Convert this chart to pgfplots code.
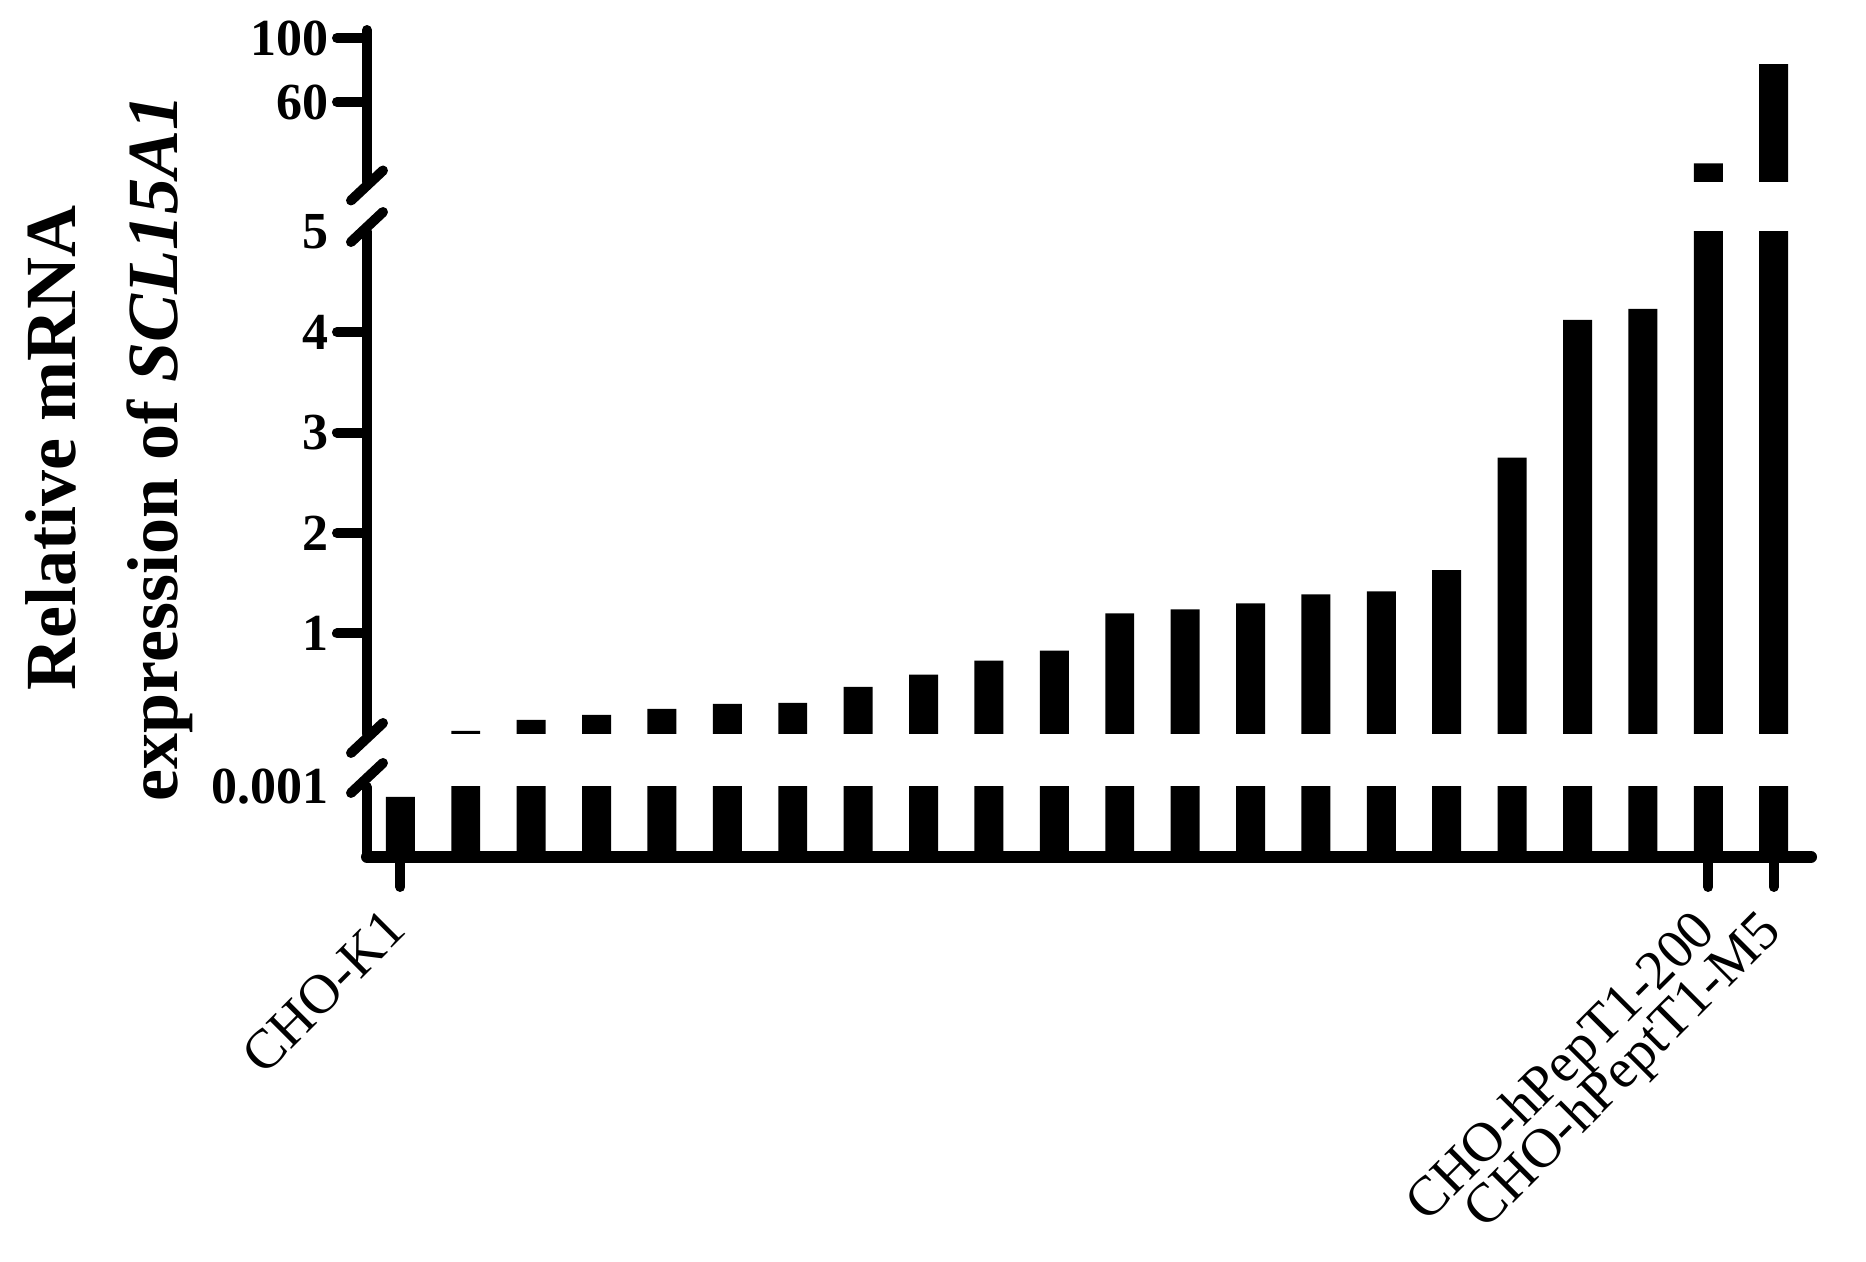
\documentclass[border=0pt]{standalone}
\usepackage{fontspec}
\setmainfont{Liberation Serif}
\usepackage{pgfplots}
\pgfplotsset{compat=1.18}
\usepackage{pgfplotstable}

\pgfplotstableread{
x y
1 0.00086
2 0.03
3 0.14
4 0.19
5 0.25
6 0.30
7 0.31
8 0.47
9 0.59
10 0.73
11 0.83
12 1.20
13 1.24
14 1.30
15 1.39
16 1.42
17 1.63
18 2.75
19 4.12
20 4.23
21 21.7
22 83.6
}\datatable

\begin{document}
\begin{tikzpicture}
\pgfplotsset{
  seg/.style={
    scale only axis, width=361pt,
    xmin=0.49, xmax=22.57,
    axis y line*=left,
    y axis line style={line width=2.5pt, line cap=round},
    tick align=outside,
    major tick length=7.5pt,
    tick style={line width=2.5pt, line cap=round, black},
    yticklabel style={font=\fontsize{13}{15}\selectfont\bfseries, inner sep=0pt, xshift=-2pt},
    scaled y ticks=false,
    extra y tick style={major tick style={draw=none}},
  },
}
% top segment
\begin{axis}[seg, name=top, at={(0,168.75pt)}, anchor=south west, height=38pt,
  ymin=10, ymax=105, axis x line=none,
  ytick={60,100}, yticklabels={60,100}]
\addplot[ybar, bar width=0.443, fill=black, draw=none, restrict y to domain=10:1000] table[x=x,y=y]{\datatable};
\end{axis}
% middle segment
\begin{axis}[seg, name=mid, at={(0,30.75pt)}, anchor=south west, height=125.625pt,
  ymin=0, ymax=5, axis x line=none,
  ytick={1,2,3,4}, yticklabels={1,2,3,4},
  extra y ticks={5}, extra y tick labels={5}]
\addplot[ybar, bar width=0.443, fill=black, draw=none, restrict y to domain=0.005:1000] table[x=x,y expr={min(\thisrow{y},5.5)}]{\datatable};
\end{axis}
% bottom segment
\begin{axis}[seg, name=bot, at={(0,0)}, anchor=south west, height=17.5pt,
  ymin=0, ymax=0.001,
  axis x line*=bottom,
  x axis line style={line width=3pt, line cap=round},
  ytick=\empty,
  extra y ticks={0.001}, extra y tick labels={0.001},
  xtick={1,21,22},
  xticklabels={CHO-K1,CHO-hPepT1-200,CHO-hPeptT1-M5},
  xticklabel style={font=\fontsize{13.9}{16}\selectfont, xshift=-4.5pt, yshift=-4.5pt, rotate=45, anchor=north east, inner sep=0pt}]
\addplot[ybar, bar width=0.443, fill=black, draw=none] table[x=x,y expr={min(\thisrow{y},0.0011)}]{\datatable};
\end{axis}
% axis breaks
\draw[line width=2.5pt, line cap=round] (top.south west) ++(-4pt,-4.625pt) -- ++(8pt,7.5pt);
\draw[line width=2.5pt, line cap=round] (mid.north west) ++(-4pt,-2.625pt) -- ++(8pt,7.5pt);
\draw[line width=2.5pt, line cap=round] (mid.south west) ++(-4pt,-4.75pt) -- ++(8pt,7.5pt);
\draw[line width=2.5pt, line cap=round] (bot.north west) ++(-4pt,-1.5pt) -- ++(8pt,7.5pt);
% y label
\node[rotate=90, align=center, inner sep=0pt, font=\fontsize{18}{25.5}\selectfont\bfseries] at (-64.5pt,102.25pt) {Relative mRNA\\expression of \textit{SCL15A1}};
\pgfresetboundingbox
\useasboundingbox (-91.75pt,-101.25pt) rectangle (374.75pt,214.25pt);
\end{tikzpicture}
\end{document}
